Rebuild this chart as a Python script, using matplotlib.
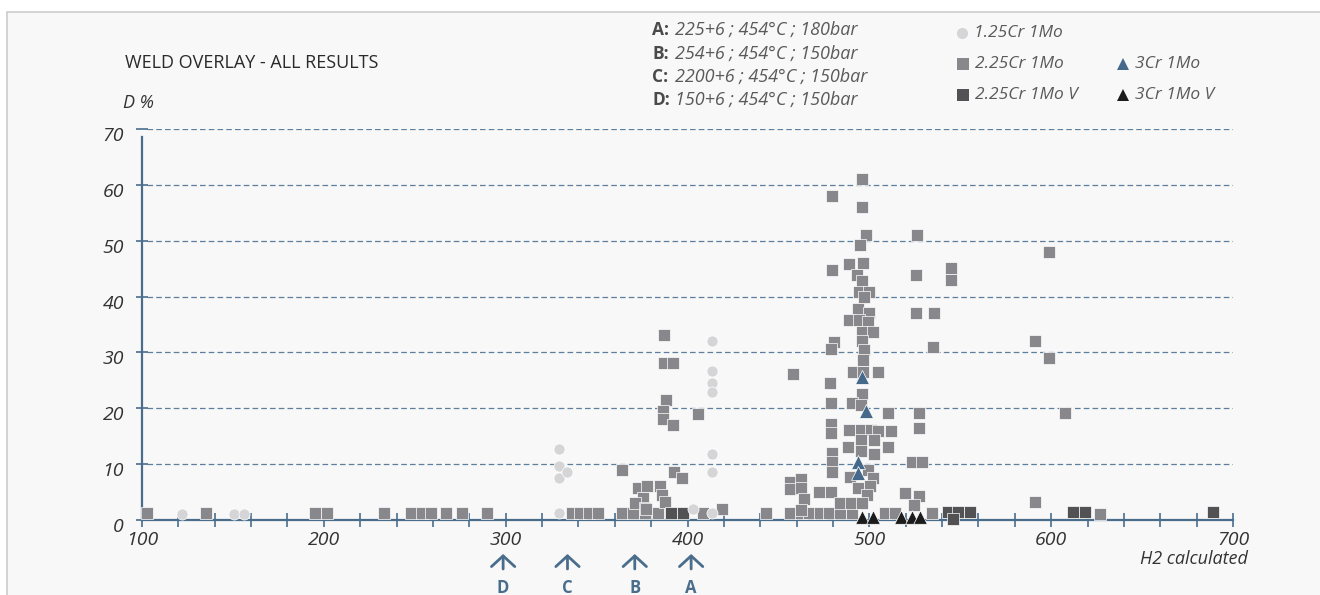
import matplotlib
matplotlib.use("Agg")
import matplotlib.pyplot as plt
from matplotlib.lines import Line2D
from matplotlib.patches import Rectangle
from matplotlib.transforms import blended_transform_factory

plt.rcParams['font.family'] = ['Open Sans', 'DejaVu Sans']

# --- data ------------------------------------------------------------------
cr125_x = [122, 150.6, 156, 329.4, 329.4, 329.4, 329.4, 334, 403, 413.5,
           413.5, 413.5, 413.5, 413.5, 413.5, 413.5]
cr125_y = [1.1, 1.1, 1.1, 1.2, 12.8, 9.7, 7.6, 8.6, 2, 1.2,
           32, 26.7, 24.5, 23, 11.9, 8.6]

cr225_x = [103, 135, 195, 202, 233, 248, 254, 259, 267, 276, 290, 336.5, 341, 346, 351,
           364, 370, 376.7, 384, 408.6, 443, 456.4, 462.5, 467, 473, 478, 484, 490.4,
           508.6, 514, 534.5, 627,
           364, 372.8, 377.8, 385, 386, 375.6, 371, 376.7, 387.7, 377.3,
           387, 387, 392, 388, 386.6, 386.6, 392, 405.8, 392.6, 397, 419,
           496, 479.5, 496, 498, 526, 495, 489, 496.6, 479.5, 525.7, 493, 496,
           494.4, 500, 497, 545, 545, 494, 500, 525.7, 535.6, 489, 494.4, 499,
           496, 502, 496, 480.6, 479, 497, 535, 496.6, 491, 496.6, 505, 478.5, 458,
           496, 479, 490.5, 495.5, 510, 527.4, 527.4, 479, 479, 489, 495.5, 501,
           505, 512, 495.5, 502.6, 488, 495.5, 510, 502.6, 479.5, 479.5, 523.5, 529,
           499, 479.5, 489.5, 502, 456.4, 462.5, 456.4, 462.5, 494, 500.4, 498.7,
           472.4, 479, 464, 519.7, 527.4, 524.6, 484, 490, 496, 462.5,
           599, 591, 599, 607.7, 591]
cr225_y = [1.2, 1.2, 1.2, 1.2, 1.2, 1.2, 1.2, 1.2, 1.2, 1.2, 1.2, 1.2, 1.2, 1.2, 1.2,
           1.2, 1.2, 1.2, 1.2, 1.2, 1.2, 1.2, 1.2, 1.2, 1.2, 1.2, 1.2, 1.2,
           1.2, 1.2, 1.2, 1.1,
           9, 5.8, 6.1, 6, 4.5, 4, 3, 2.2, 3.2, 2,
           33.2, 28.1, 28.1, 21.4, 19.6, 18, 17, 19, 8.6, 7.6, 2,
           61, 58, 56, 51, 51, 49.2, 45.8, 46, 44.7, 43.8, 43.8, 42.7,
           40.9, 40.9, 40, 45.2, 43, 37.8, 37.1, 37.1, 37.1, 35.8, 35.8, 35.5,
           33.7, 33.7, 32, 31.9, 30.6, 30.5, 31, 28.6, 26.5, 26.5, 26.5, 24.5, 26.1,
           22.5, 21, 21, 20.5, 19.1, 19.1, 16.4, 17.1, 15.6, 16.2, 16.2, 16.2,
           15.9, 15.9, 14.4, 14.4, 13, 12.3, 13, 11.9, 12, 10.4, 10.4, 10.4,
           9, 8.6, 7.7, 7.6, 6.8, 7.4, 5.6, 5.8, 5.8, 6, 4.5,
           5, 5, 3.8, 4.9, 4.3, 2.7, 3, 3, 3, 1.8,
           48, 32, 29, 19.1, 3.2]

cr225v_x = [391, 397.5, 543, 549, 555.4, 546, 612, 618.7, 689]
cr225v_y = [1.3, 1.3, 1.4, 1.4, 1.4, 0.2, 1.4, 1.4, 1.4]

cr3_x = [496, 498, 494, 494]
cr3_y = [25.6, 19.5, 10.4, 8.5]

cr3v_x = [496, 502, 517.5, 523.5, 528]
cr3v_y = [0.45, 0.45, 0.45, 0.45, 0.45]

arrow_x = [298.6, 334, 371, 402]
arrow_labels = ['D', 'C', 'B', 'A']

cond_keys = ['A:', 'B:', 'C:', 'D:']
cond_text = ['225+6 ; 454°C ; 180bar', '254+6 ; 454°C ; 150bar',
             '2200+6 ; 454°C ; 150bar', '150+6 ; 454°C ; 150bar']

x_ticks = [100, 200, 300, 400, 500, 600, 700]
y_ticks = [0, 10, 20, 30, 40, 50, 60, 70]

# --- styles -----------------------------------------------------------------
W, H = 1320, 595
BLUE = '#4a6d8c'
C125 = '#d5d5d7'
C225 = '#88888c'
C225V = '#525254'
C3 = '#46698b'
C3V = '#1c1c1c'
TXT = '#333333'
GREY_TXT = '#5a5a5a'


def fx(px):
    return px / W


def fy(py):
    return 1 - py / H


fig = plt.figure(figsize=(W / 100, H / 100), dpi=100, facecolor='white')
fig.add_artist(Rectangle((fx(7), -0.1), 1.2, fy(12) + 0.1, transform=fig.transFigure,
                         facecolor='#f8f8f8', edgecolor='#cccccc', lw=1.2, zorder=-10))

ax = fig.add_axes([fx(142), fy(520), fx(1233) - fx(142), fy(129) - fy(520)])
ax.patch.set_alpha(0)
ax.set_xlim(100, 700)
ax.set_ylim(0, 70)

for s in ['top', 'right']:
    ax.spines[s].set_visible(False)
for s in ['left', 'bottom']:
    ax.spines[s].set_color(BLUE)
    ax.spines[s].set_linewidth(1.6)
ax.spines['left'].set_bounds(0, 68.6)

ax.set_xticks(range(100, 701, 20))
ax.set_yticks(y_ticks)
ax.tick_params(axis='x', direction='inout', length=10, width=1.2, color=BLUE,
               labelbottom=False)
ax.tick_params(axis='y', direction='inout', length=9, width=1.2, color=BLUE,
               labelleft=False)

for v in y_ticks[1:]:
    ax.axhline(v, xmin=0.005, xmax=1, color='#5b7f9c', lw=0.9,
               linestyle=(0, (4.5, 2.5)), zorder=0)

# tick labels (drawn as text so they can sit like the original)
for v in x_ticks:
    ax.annotate(str(v), (v, 0), xytext=(0, -20), textcoords='offset pixels',
                ha='center', va='center', fontsize=14, style='italic', color=TXT,
                annotation_clip=False)
for v in y_ticks:
    ax.annotate(str(v), (100, v), xytext=(-18, -7), textcoords='offset pixels',
                ha='right', va='center', fontsize=14, style='italic', color=TXT,
                annotation_clip=False)

# series
mk = dict(edgecolors='white', linewidths=0.5, clip_on=False)
ax.scatter(cr225_x, cr225_y, marker='s', s=74, c=C225, zorder=3, **mk)
ax.scatter(cr225v_x, cr225v_y, marker='s', s=74, c=C225V, zorder=4, **mk)
ax.scatter(cr125_x, cr125_y, marker='o', s=64, c=C125, zorder=5, **mk)
ax.scatter(cr3_x, cr3_y, marker='^', s=100, c=C3, zorder=6, **mk)
ax.scatter(cr3v_x, cr3v_y, marker='^', s=95, c=C3V, zorder=6, **mk)

# arrows under the x axis
trans = blended_transform_factory(ax.transData, fig.transFigure)
for xv, lab in zip(arrow_x, arrow_labels):
    ax.annotate('', xy=(xv, fy(554)), xytext=(xv, fy(569)), xycoords=trans,
                textcoords=trans, annotation_clip=False,
                arrowprops=dict(arrowstyle='->, head_length=0.55, head_width=0.6',
                                color=BLUE, lw=2, shrinkA=0, shrinkB=0,
                                mutation_scale=14))
    fig.text(xv, fy(588), lab, transform=trans, ha='center', va='center',
             fontsize=12, fontweight='bold', color=BLUE)

# texts
fig.text(fx(125), fy(63), 'WELD OVERLAY - ALL RESULTS', fontsize=13, color='#2a2a2a',
         va='center', ha='left')
fig.text(fx(123), fy(103), 'D %', fontsize=13, style='italic', color=TXT,
         va='center', ha='left')
fig.text(fx(1248), fy(559), 'H2 calculated', fontsize=13, style='italic', color=TXT,
         va='center', ha='right')

cond_y = [30, 54, 77, 100]
for k, t, yy in zip(cond_keys, cond_text, cond_y):
    fig.text(fx(652), fy(yy), k, fontsize=12.5, fontweight='bold', color='#4a4a4a',
             va='center')
    fig.text(fx(675), fy(yy), t, fontsize=13, style='italic', color=GREY_TXT,
             va='center')

# legend
leg = [(962, 33, 'o', C125, 8, '1.25Cr 1Mo'),
       (963, 64, 's', C225, 8.5, '2.25Cr 1Mo'),
       (963, 95, 's', C225V, 8.5, '2.25Cr 1Mo V'),
       (1123, 64, '^', C3, 9, '3Cr 1Mo'),
       (1123, 95, '^', C3V, 9, '3Cr 1Mo V')]
for px_, py_, m, c, ms, lab in leg:
    fig.add_artist(Line2D([fx(px_)], [fy(py_)], marker=m, markersize=ms, color=c,
                          markeredgewidth=0, linestyle='none', transform=fig.transFigure))
    fig.text(fx(px_ + 12), fy(py_), lab, fontsize=12.5, style='italic', color=GREY_TXT,
             va='center', ha='left')

fig.savefig('out.png', dpi=100, facecolor=fig.get_facecolor())
